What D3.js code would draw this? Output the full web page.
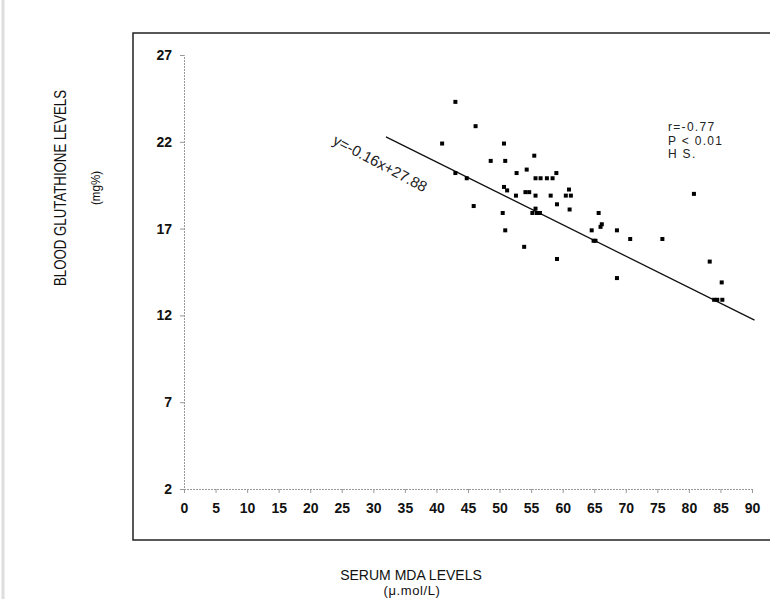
<!DOCTYPE html>
<html>
<head>
<meta charset="utf-8">
<script src="https://cdn.jsdelivr.net/npm/d3@7"></script>
<style>
  body { margin: 0; background: #fff; }
  svg { display: block; font-family: "Liberation Sans", Arial, sans-serif; }
</style>
</head>
<body>
<div id="chart"></div>
<script>
// Serum MDA (x) vs blood glutathione (y)
const mdaLevels = [43.0, 46.2, 40.9, 50.7, 48.6, 50.9, 55.5, 43.0, 44.8, 52.7, 54.3,
    55.7, 56.5, 57.5, 58.4, 59.0, 50.7, 51.2, 52.6, 54.1, 54.7, 55.7, 58.1, 61.0,
    60.5, 61.3, 59.1, 55.7, 61.1, 45.9, 50.5, 55.2, 55.9, 56.4, 50.9, 53.9, 59.1,
    65.7, 66.2, 66.0, 64.6, 64.9, 65.2, 68.6, 70.7, 75.8, 68.6, 80.8, 83.3, 85.2,
    84.0, 84.5, 85.3];
const gshLevels = [24.3, 22.9, 21.9, 21.9, 20.9, 20.9, 21.2, 20.2, 19.9, 20.2, 20.4,
    19.9, 19.9, 19.9, 19.9, 20.2, 19.4, 19.2, 18.9, 19.1, 19.1, 18.9, 18.9, 19.25,
    18.9, 18.9, 18.4, 18.15, 18.1, 18.3, 17.9, 17.9, 17.9, 17.9, 16.9, 15.95, 15.25,
    17.9, 17.25, 17.1, 16.9, 16.3, 16.3, 16.9, 16.4, 16.4, 14.15, 19.0, 15.1, 13.9,
    12.9, 12.9, 12.9];

// regression line as drawn (end points)
const fitX = [32, 90.4];
const fitY = [22.28, 11.73];

const xTicks = d3.range(0, 91, 5);
const yTicks = [2, 7, 12, 17, 22, 27];
const statsText = ["r=-0.77", "P < 0.01", "H S."];
const equationText = "y=-0.16x+27.88";

const width = 770, height = 599;
const svg = d3.select("#chart").append("svg")
    .attr("width", width)
    .attr("height", height);

// scan edge on the left
svg.append("line")
    .attr("x1", 3).attr("x2", 3)
    .attr("y1", 0).attr("y2", height)
    .attr("stroke", "#ddd")
    .attr("stroke-width", 3);

// frame of the scanned figure
svg.append("rect")
    .attr("x", 133).attr("y", 33)
    .attr("width", 660).attr("height", 507)
    .attr("fill", "none")
    .attr("stroke", "#222")
    .attr("stroke-width", 1.5);

const xScale = d3.scaleLinear().domain([0, 90]).range([184, 752]);
const yScale = d3.scaleLinear().domain([2, 27]).range([489, 55]);

// y axis
const yAxis = d3.axisLeft(yScale)
    .tickValues(yTicks)
    .tickSize(4)
    .tickPadding(8);

const gy = svg.append("g")
    .attr("transform", `translate(${xScale(0)},0)`)
    .call(yAxis);
gy.select(".domain").attr("stroke", "#999").attr("stroke-dasharray", "2,1");
gy.selectAll("line").attr("stroke", "#999");
gy.selectAll("text")
    .attr("fill", "#111")
    .style("font-size", "14px")
    .style("font-weight", "bold")
    .style("font-family", "inherit");

// x axis
const xAxis = d3.axisBottom(xScale)
    .tickValues(xTicks)
    .tickSize(4)
    .tickPadding(10);

const gx = svg.append("g")
    .attr("transform", `translate(0,${yScale(2)})`)
    .call(xAxis);
gx.select(".domain").attr("stroke", "#999").attr("stroke-dasharray", "2,1");
gx.selectAll("line").attr("stroke", "#999");
gx.selectAll("text")
    .attr("fill", "#111")
    .style("font-size", "14px")
    .style("font-weight", "bold")
    .style("font-family", "inherit");

// fitted line
svg.append("line")
    .attr("x1", xScale(fitX[0])).attr("y1", yScale(fitY[0]))
    .attr("x2", xScale(fitX[1])).attr("y2", yScale(fitY[1]))
    .attr("stroke", "#111")
    .attr("stroke-width", 1.3);

// points
svg.selectAll(".pt")
    .data(mdaLevels.map((d, i) => ({ x: d, y: gshLevels[i] })))
    .enter()
    .append("rect")
    .attr("class", "pt")
    .attr("x", d => xScale(d.x) - 2)
    .attr("y", d => yScale(d.y) - 2)
    .attr("width", 4)
    .attr("height", 4)
    .attr("fill", "#000");

// equation, rotated along the line
svg.append("text")
    .attr("transform", `translate(${xScale(23.4)},${yScale(21.9)}) rotate(28)`)
    .attr("fill", "#222")
    .style("font-size", "15px")
    .text(equationText);

// stats box
svg.append("g")
    .selectAll("text")
    .data(statsText)
    .enter()
    .append("text")
    .attr("x", 668)
    .attr("y", (d, i) => 131 + i * 13.5)
    .attr("fill", "#222")
    .style("font-size", "12px")
    .style("letter-spacing", "1.3px")
    .text(d => d);

// axis titles
svg.append("text")
    .attr("transform", "translate(66,188) rotate(-90)")
    .attr("text-anchor", "middle")
    .attr("fill", "#111")
    .attr("textLength", 196)
    .attr("lengthAdjust", "spacingAndGlyphs")
    .style("font-size", "16px")
    .text("BLOOD GLUTATHIONE LEVELS");

svg.append("text")
    .attr("transform", "translate(100,188) rotate(-90)")
    .attr("text-anchor", "middle")
    .attr("fill", "#111")
    .attr("textLength", 34)
    .attr("lengthAdjust", "spacingAndGlyphs")
    .style("font-size", "12px")
    .text("(mg%)");

svg.append("text")
    .attr("x", 411).attr("y", 580)
    .attr("text-anchor", "middle")
    .attr("fill", "#111")
    .style("font-size", "14px")
    .text("SERUM MDA LEVELS");

svg.append("text")
    .attr("x", 412).attr("y", 595)
    .attr("text-anchor", "middle")
    .attr("fill", "#111")
    .style("font-size", "13px")
    .style("letter-spacing", "0.6px")
    .text("(\u03bc.mol/L)");
</script>
</body>
</html>
